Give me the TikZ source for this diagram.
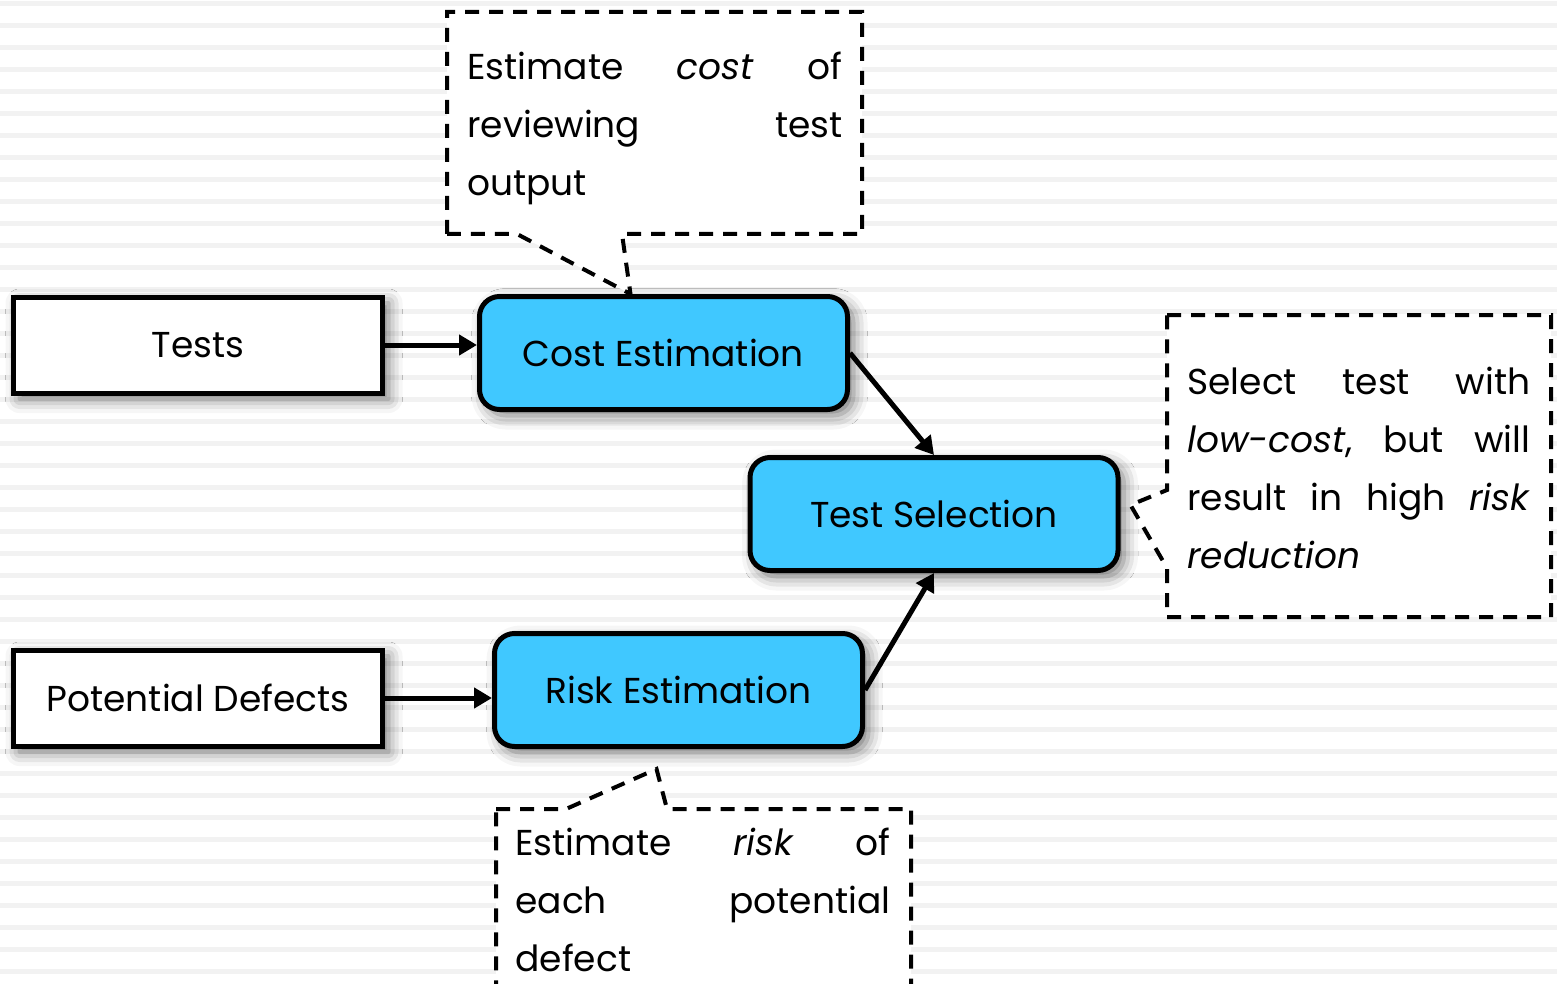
\documentclass[tikz,border=0pt]{standalone}
\usepackage{fontspec}
\setmainfont{Poppins}
\usetikzlibrary{positioning,arrows.meta,shadows.blur}
\definecolor{procblue}{RGB}{64,200,255}
\definecolor{stripegray}{RGB}{242,242,242}

\begin{document}
\begin{tikzpicture}[x=0.5pt, y=-0.5pt,
    box/.style={rectangle, draw, line width=2.5pt, fill=white, minimum width=184.5pt, minimum height=48pt,
                font=\fontsize{18}{22}\selectfont,
                blur shadow={shadow xshift=3pt, shadow yshift=-3pt, shadow blur radius=7pt, shadow opacity=55}},
    proc/.style={box, fill=procblue, rounded corners=10pt, minimum width=184pt, minimum height=56.5pt},
    notebox/.style={rectangle, inner sep=0pt, outer sep=0pt},
    note/.style={draw, line width=2pt, dash pattern=on 7pt off 5pt, fill=white},
    notetext/.style={anchor=north west, inner sep=0pt, text width=#1, align=left,
                     font=\fontsize{18}{29}\selectfont},
    link/.style={-{Triangle[length=9pt,width=10pt]}, line width=2.5pt}]

  \clip (0,0) rectangle (1557,984);

  % striped background
  \foreach \i in {0,...,44}
    \fill[stripegray] (0,{1+22*\i}) rectangle (1557,{6+22*\i});

  \node[box] (tests) at (198,345) {Tests};
  \node[box] (defects) at (198,698) {Potential Defects};
  \node[proc] (cost) [right=46pt of tests, yshift=-4pt] {Cost Estimation};
  \node[proc] (risk) [right=53.5pt of defects, yshift=4pt] {Risk Estimation};
  \node[proc] (select) at (934,514) {Test Selection};

  \path[link]
    (tests) edge (tests -| cost.west)
    (defects) edge (defects -| risk.west)
    (cost.east) edge (select.north)
    (risk.east) edge (select.south);

  % notes
  \node[notebox, minimum width=207.5pt, minimum height=111pt] (costnote) at (654.5,123) {};
  \node[notebox, minimum width=192pt, minimum height=151pt] (selnote) at (1359,466) {};
  \node[notebox, minimum width=207.5pt, minimum height=111pt] (risknote) at (703.5,920) {};

  \draw[note] (costnote.south west) -- (costnote.north west) -- (costnote.north east)
    -- (costnote.south east) -- ([xshift=87.5pt]costnote.south west)
    -- ([xshift=-16.5pt]cost.north) -- ([xshift=35pt]costnote.south west) -- cycle;
  \draw[note] (selnote.north west) -- (selnote.north east) -- (selnote.south east)
    -- (selnote.south west) -- ([yshift=-126.5pt]selnote.north west)
    -- ([shift={(10,-9)}]select.east) -- ([yshift=-87.5pt]selnote.north west) -- cycle;
  \draw[note] (risknote.north west) -- ([xshift=35pt]risknote.north west)
    -- ([shift={(-22,20)}]risk.south) -- ([xshift=85.5pt]risknote.north west)
    -- (risknote.north east) -- (risknote.south east) -- (risknote.south west) -- cycle;

  \node[notetext=187.5pt] (costtext) at (467,52)
    {Estimate \hfill \textit{cost} \hfill of\\ reviewing \hfill test\\ output};
  \node[notetext=171.5pt] (seltext) at (1187,367)
    {Select \hfill test \hfill with\\ \textit{low-cost}, \hfill but \hfill will\\
     result \hfill in \hfill high \hfill \textit{risk}\\ \textit{reduction}};
  \node[notetext=187.5pt] (risktext) at (515,828)
    {Estimate \hfill \textit{risk} \hfill of\\ each \hfill potential\\ defect};

\end{tikzpicture}
\end{document}
